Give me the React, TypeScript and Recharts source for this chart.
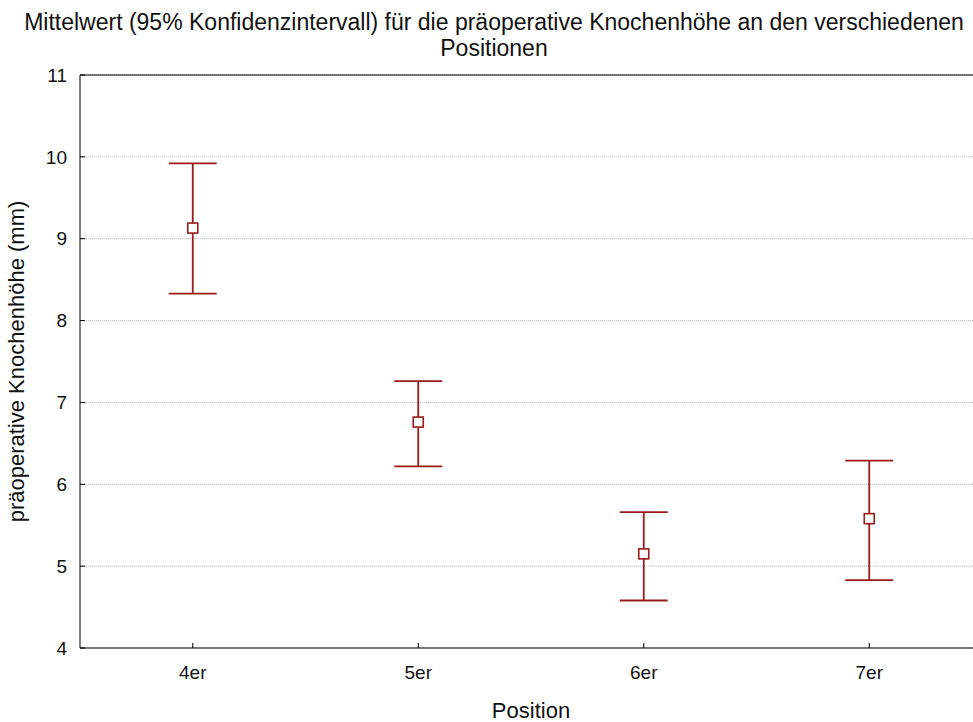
import React from "react";
import {
  ComposedChart,
  Scatter,
  ErrorBar,
  XAxis,
  YAxis,
  CartesianGrid,
  ReferenceLine,
} from "recharts";

const positions = ["4er", "5er", "6er", "7er"];
const means = [9.13, 6.76, 5.15, 5.58];
const upper = [9.92, 7.26, 5.66, 6.29];
const lower = [8.33, 6.22, 4.58, 4.83];
const yTicks = [4, 5, 6, 7, 8, 9, 10, 11];

const data = positions.map((p, i) => ({
  position: p,
  mean: means[i],
  err: [means[i] - lower[i], upper[i] - means[i]],
}));

const RED = "#9b1b1b";
const FONT = "'Liberation Sans', Arial, sans-serif";

const SquareDot = (props: any) => {
  const { cx, cy } = props;
  if (cx == null || cy == null) return null;
  return (
    <rect
      x={cx - 5}
      y={cy - 5}
      width={10}
      height={10}
      fill="#ffffff"
      stroke={RED}
      strokeWidth={1.6}
    />
  );
};

const App: React.FC = () => {
  return (
    <div
      style={{
        position: "fixed",
        left: 0,
        top: 0,
        width: 973,
        height: 722,
        overflow: "hidden",
        background: "#fff",
        fontFamily: FONT,
      }}
    >
      <ComposedChart
        width={990}
        height={722}
        data={data}
        margin={{ top: 75, right: 8, bottom: 0, left: 0 }}
        style={{ fontFamily: FONT }}
      >
        <CartesianGrid
          vertical={false}
          stroke="#b8b8b8"
          strokeDasharray="1 1"
        />
        <XAxis
          dataKey="position"
          type="category"
          scale="band"
          height={74}
          stroke="#000"
          tickSize={-5}
          tickMargin={23}
          tick={{ fill: "#111", fontSize: 19 }}
          label={{
            value: "Position",
            position: "insideBottom",
            offset: 4,
            fill: "#111",
            fontSize: 22,
          }}
        />
        <XAxis
          xAxisId="top"
          dataKey="position"
          type="category"
          scale="band"
          orientation="top"
          height={0}
          stroke="#000"
          tickSize={-5}
          tickFormatter={() => ""}
        />
        <YAxis
          type="number"
          domain={[4, 11]}
          ticks={yTicks}
          width={80}
          stroke="#000"
          tickSize={-5}
          tickMargin={18}
          tick={{ fill: "#111", fontSize: 19 }}
          label={{
            value: "präoperative Knochenhöhe (mm)",
            angle: -90,
            position: "insideLeft",
            offset: 16,
            style: { textAnchor: "middle" },
            fill: "#111",
            fontSize: 22,
          }}
        />
        <ReferenceLine y={11} stroke="#000" />
        <Scatter
          dataKey="mean"
          shape={<SquareDot />}
          isAnimationActive={false}
        >
          <ErrorBar
            dataKey="err"
            direction="y"
            width={24}
            stroke={RED}
            strokeWidth={1.8}
            isAnimationActive={false}
          />
        </Scatter>
      </ComposedChart>
      <div
        style={{
          position: "absolute",
          left: 0,
          top: 9,
          width: 988,
          textAlign: "center",
          fontSize: 23,
          lineHeight: "26px",
          color: "#111",
          whiteSpace: "nowrap",
        }}
      >
        Mittelwert (95% Konfidenzintervall) für die präoperative Knochenhöhe an den verschiedenen
        <br />
        Positionen
      </div>
    </div>
  );
};

export default App;
